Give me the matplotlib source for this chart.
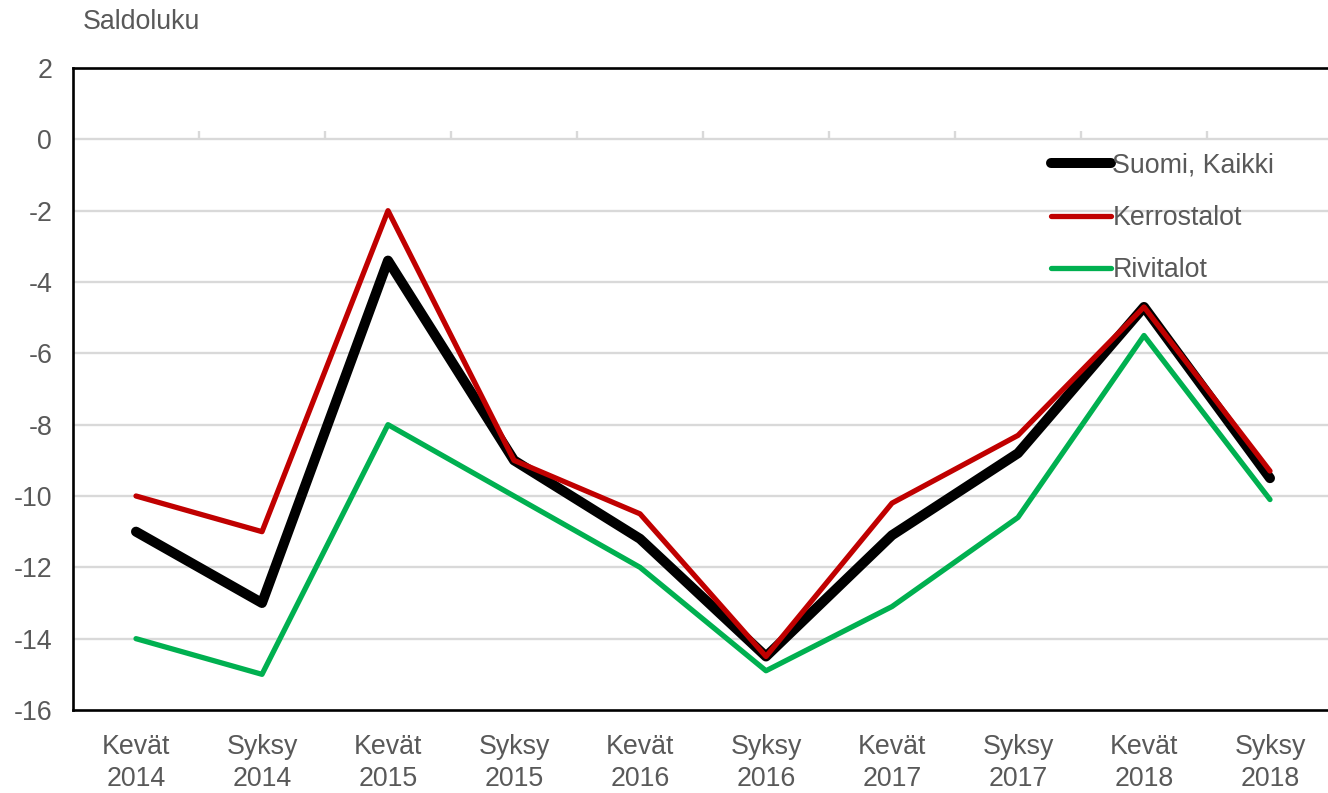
import matplotlib
matplotlib.use("Agg")
import matplotlib.pyplot as plt

plt.rcParams['font.family'] = ['Liberation Sans', 'DejaVu Sans']

# Survey rounds (spring/autumn) and balance figures
seasons = ["Kevät", "Syksy", "Kevät", "Syksy", "Kevät", "Syksy", "Kevät", "Syksy", "Kevät", "Syksy"]
years = ["2014", "2014", "2015", "2015", "2016", "2016", "2017", "2017", "2018", "2018"]
suomi_kaikki = [-11.0, -13.0, -3.4, -9.0, -11.2, -14.5, -11.1, -8.8, -4.7, -9.5]
kerrostalot = [-10.0, -11.0, -2.0, -9.0, -10.5, -14.5, -10.2, -8.3, -4.7, -9.3]
rivitalot = [-14.0, -15.0, -8.0, -10.0, -12.0, -14.9, -13.1, -10.6, -5.5, -10.1]
y_ticks = [2, 0, -2, -4, -6, -8, -10, -12, -14, -16]

text_color = "#595959"
grid_color = "#d9d9d9"
fs = 19.3

W, H = 1328, 793
fig = plt.figure(figsize=(W / 100, H / 100), dpi=100)
ax = fig.add_axes([73 / W, (H - 710) / H, 1260 / W, 642 / H])

x = list(range(len(seasons)))
ax.set_xlim(-0.5, len(seasons) - 0.5)
ax.set_ylim(-16, 2)

# horizontal gridlines
for v in y_ticks:
    if v in (2, -16):
        continue
    ax.axhline(v, color=grid_color, lw=1.7, zorder=1)

# small category-boundary ticks on the zero line
for b in range(1, len(seasons)):
    ax.plot([b - 0.5, b - 0.5], [0, 0.24], color=grid_color, lw=1.7, zorder=1,
            solid_capstyle='butt')

ax.plot(x, suomi_kaikki, color="#000000", lw=7.2, label="Suomi, Kaikki",
        solid_capstyle='round', solid_joinstyle='round', zorder=3)
ax.plot(x, kerrostalot, color="#c00000", lw=3.8, label="Kerrostalot",
        solid_capstyle='round', solid_joinstyle='round', zorder=4)
ax.plot(x, rivitalot, color="#00b050", lw=3.8, label="Rivitalot",
        solid_capstyle='round', solid_joinstyle='round', zorder=5)

ax.set_yticks(y_ticks)
ax.set_yticklabels([str(v) for v in y_ticks])
ax.set_xticks(x)
ax.set_xticklabels([f"{s}\n{y}" for s, y in zip(seasons, years)], linespacing=1.32)
ax.tick_params(axis='both', length=0, labelsize=fs, labelcolor=text_color)
ax.tick_params(axis='y', pad=15)
ax.tick_params(axis='x', pad=17)

for side in ("left", "top", "bottom", "right"):
    ax.spines[side].set_color("black")
    ax.spines[side].set_linewidth(1.9)

leg = ax.legend(loc='upper left', bbox_to_anchor=(0.776, 0.868), frameon=False,
                fontsize=fs, handlelength=2.25, handletextpad=0.05,
                labelspacing=0.98, borderaxespad=0, borderpad=0)
for t in leg.get_texts():
    t.set_color(text_color)

fig.text(83 / W, 1 - 22 / H, "Saldoluku", fontsize=fs, color=text_color, va='center', ha='left')

fig.savefig("out.png", dpi=100)
